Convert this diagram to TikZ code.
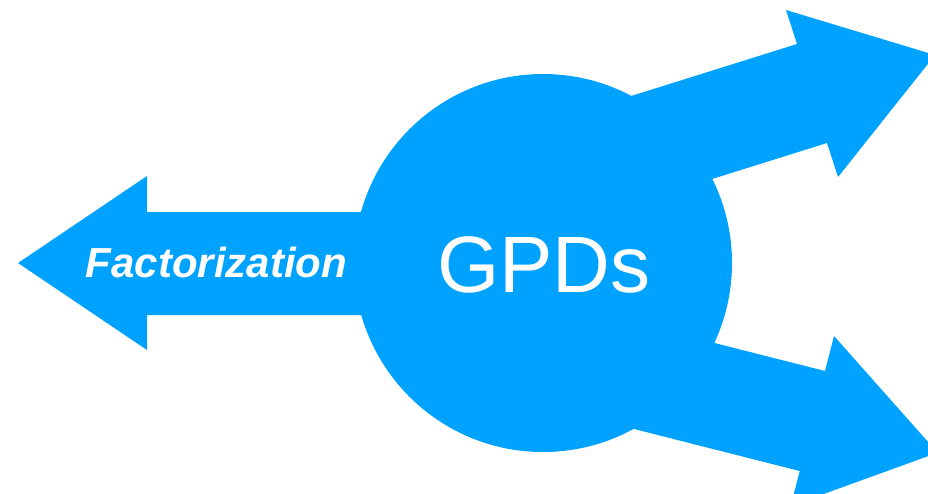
\documentclass[tikz,border=0pt]{standalone}
\usepackage{fontspec}
\setmainfont{Liberation Sans}
\definecolor{gpdblue}{RGB}{0,162,255}
\begin{document}
\begin{tikzpicture}[x=1pt,y=-1pt,
  blob/.style={fill=gpdblue,draw=none},
  bigtext/.style={text=white,font=\fontsize{80}{80}\selectfont,inner sep=0pt,anchor=base},
  arrowtext/.style={text=white,font=\fontsize{42}{42}\selectfont\bfseries\itshape,inner sep=0pt,anchor=base}]
\useasboundingbox (0,0) rectangle (928,493);
\clip (0,0) rectangle (928,493);
% left arrow
\fill[blob] (18,263) -- (147,176) -- (147,212) -- (550,212) -- (550,315) -- (147,315) -- (147,350) -- cycle;
% upper right arrow
\fill[blob] (558.5,118.75) -- (797,44) -- (786,10) -- (935,55) -- (838,177) -- (827,143) -- (588.5,217.75) -- cycle;
% lower right arrow
\fill[blob] (582.5,309.5) -- (825,371) -- (834,336) -- (937.6,452.7) -- (790.8,505.9) -- (799.7,471) -- (557.2,409.5) -- cycle;
% circle
\node[blob,circle,minimum size=378pt,inner sep=0pt] (gpds) at (543,263) {};
\node[bigtext] (gpdlabel) at (544,292) {GPDs};
\node[arrowtext] (factlabel) at (216.5,277) {Factorization};
\end{tikzpicture}
\end{document}
